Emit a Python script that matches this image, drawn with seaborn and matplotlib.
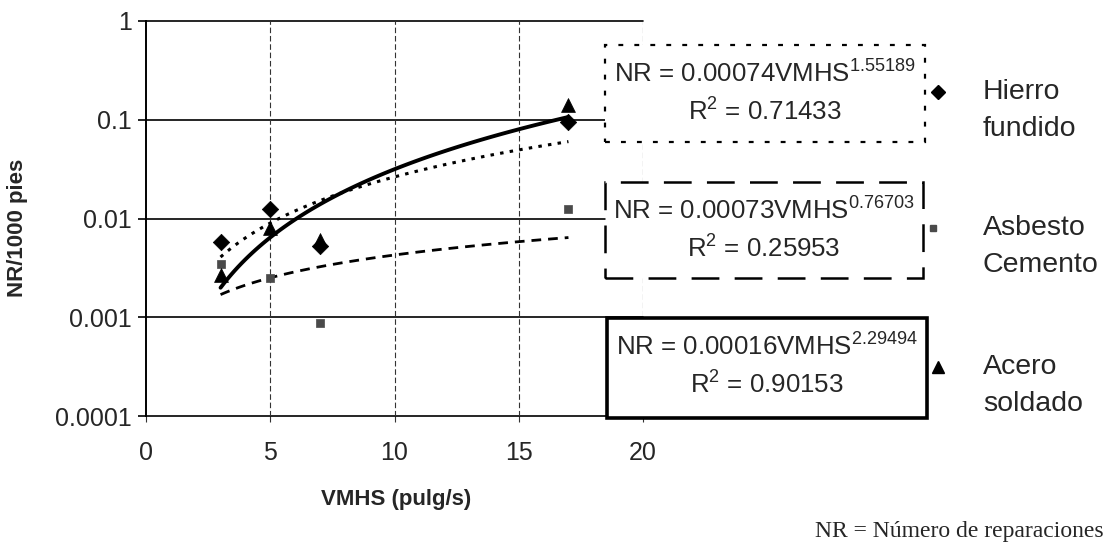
import numpy as np
import pandas as pd
import matplotlib
matplotlib.use("Agg")
import matplotlib.pyplot as plt
from matplotlib.patches import Rectangle
from matplotlib.lines import Line2D
import seaborn as sns

# values
vmhs = [3, 5, 7, 17]
hierro = [0.0058, 0.0125, 0.0053, 0.095]
asbesto = [0.0035, 0.0025, 0.00088, 0.0125]
acero = [0.00265, 0.0081, 0.0060, 0.14]

names = ["Hierro fundido", "Asbesto Cemento", "Acero soldado"]
label_lines = [["Hierro", "fundido"], ["Asbesto", "Cemento"], ["Acero", "soldado"]]
coef_a = [0.00074, 0.00073, 0.00016]
coef_b = [1.55189, 0.76703, 2.29494]
coef_a_txt = ["0.00074", "0.00073", "0.00016"]
coef_b_txt = ["1.55189", "0.76703", "2.29494"]
r2_txt = ["0.71433", "0.25953", "0.90153"]

y_ticks = [0.0001, 0.001, 0.01, 0.1, 1]
y_ticklabels = ["0.0001", "0.001", "0.01", "0.1", "1"]
x_ticks = [0, 5, 10, 15, 20]

sns.set_theme(style="white")
plt.rcParams["font.family"] = ["Liberation Sans", "DejaVu Sans"]
plt.rcParams["mathtext.fontset"] = "custom"
plt.rcParams["mathtext.rm"] = "Liberation Sans"
plt.rcParams["mathtext.it"] = "Liberation Sans"
plt.rcParams["lines.scale_dashes"] = False

W, H = 1110, 551
fig = plt.figure(figsize=(W / 100, H / 100), dpi=100)
fig.patch.set_facecolor("white")


def fx(px):
    return px / W


def fy(py):
    return 1 - py / H


ax = fig.add_axes([fx(146), fy(416), fx(643) - fx(146), fy(21) - fy(416)])

df = pd.DataFrame({
    "VMHS": vmhs * 3,
    "NR": hierro + asbesto + acero,
    "serie": [names[0]] * 4 + [names[1]] * 4 + [names[2]] * 4,
})

# trend lines from the equations printed on the chart
xs = np.linspace(3, 17, 100)
styles = [dict(lw=2.2, dashes=(2.5, 4.5)), dict(lw=2.0, dashes=(7, 5)), dict(lw=2.8, dashes=None)]
for a, b, st in zip(coef_a, coef_b, styles):
    sns.lineplot(x=xs, y=a * xs ** b, ax=ax, color="black", lw=st["lw"])
    if st["dashes"] is not None:
        ax.lines[-1].set_dashes(st["dashes"])

markers = {names[0]: "D", names[1]: "s", names[2]: "^"}
sizes = {names[0]: 70, names[1]: 28, names[2]: 100}
colors = {names[0]: "black", names[1]: "#4a4a4a", names[2]: "black"}
for n in names:
    sub = df[df["serie"] == n]
    sns.scatterplot(data=sub, x="VMHS", y="NR", marker=markers[n], s=sizes[n],
                    color=colors[n], edgecolor=colors[n], linewidth=0.5, ax=ax, zorder=5)

ax.set_yscale("log")
ax.set_ylim(1e-4, 1)
ax.set_xlim(0, 20)
ax.set_yticks(y_ticks)
ax.set_yticklabels(y_ticklabels)
ax.minorticks_off()
ax.set_xticks(x_ticks)
ax.set_xticklabels([str(t) for t in x_ticks])
ax.set_xlabel("")
ax.set_ylabel("")

for y in y_ticks:
    ax.axhline(y, color="black", lw=1.2, zorder=1, clip_on=False)
for x in x_ticks[1:]:
    ax.axvline(x, color="#333333", lw=0.8, ls=(0, (4, 2)), zorder=1)

for s in ["top", "right", "bottom"]:
    ax.spines[s].set_visible(False)
ax.spines["left"].set_color("black")
ax.spines["left"].set_linewidth(1.4)
ax.tick_params(axis="y", which="major", direction="out", length=6, width=1.2,
               color="black", labelsize=18, pad=4, left=True)
ax.tick_params(axis="x", which="major", direction="out", length=4, width=0.8,
               color="#333333", labelsize=18, pad=14, bottom=True)

# equation boxes
boxes = [(605, 45, 925, 142), (605, 182, 923, 278), (607, 318, 927, 418)]
box_styles = [dict(lw=1.6, ls=(0, (3.5, 8))), dict(lw=1.8, ls=(0, (20, 11))), dict(lw=2.6, ls="-")]
for i, ((x0, y0, x1, y1), bs) in enumerate(zip(boxes, box_styles)):
    rect = Rectangle((fx(x0), fy(y1)), fx(x1) - fx(x0), fy(y0) - fy(y1),
                     transform=fig.transFigure, facecolor="white", edgecolor="black",
                     zorder=10, **bs)
    fig.add_artist(rect)
    cx = (x0 + x1) / 2
    fig.text(fx(cx), fy(y0 + 29), f"NR = {coef_a_txt[i]}VMHS$^{{{coef_b_txt[i]}}}$",
             ha="center", va="center", fontsize=18.6, zorder=11)
    fig.text(fx(cx), fy(y0 + 67), f"R$^2$ = {r2_txt[i]}",
             ha="center", va="center", fontsize=18.6, zorder=11)

# legend
leg_x = [938, 933, 938]
leg_y = [92, 228, 367]
leg_mk = ["D", "s", "^"]
leg_ms = [7, 5, 9]
leg_col = ["black", "#4a4a4a", "black"]
for i in range(3):
    fig.add_artist(Line2D([fx(leg_x[i])], [fy(leg_y[i])], marker=leg_mk[i], ms=leg_ms[i],
                          color=leg_col[i], ls="none", transform=fig.transFigure))
    fig.text(fx(983), fy(leg_y[i]), label_lines[i][0], ha="left", va="center", fontsize=20.5)
    fig.text(fx(983), fy(leg_y[i] + 37), label_lines[i][1], ha="left", va="center", fontsize=20.5)

fig.text(fx(18), fy(228), "NR/1000 pies", rotation=90, ha="center", va="center",
         fontsize=16, fontweight="bold")
fig.text(fx(396), fy(500), "VMHS (pulg/s)", ha="center", va="center",
         fontsize=16, fontweight="bold")
fig.text(fx(815), fy(532), "NR = Número de reparaciones", ha="left", va="center",
         fontsize=17, family=["Liberation Serif", "DejaVu Serif"])

fig.savefig("out.png", dpi=100, facecolor="white")
